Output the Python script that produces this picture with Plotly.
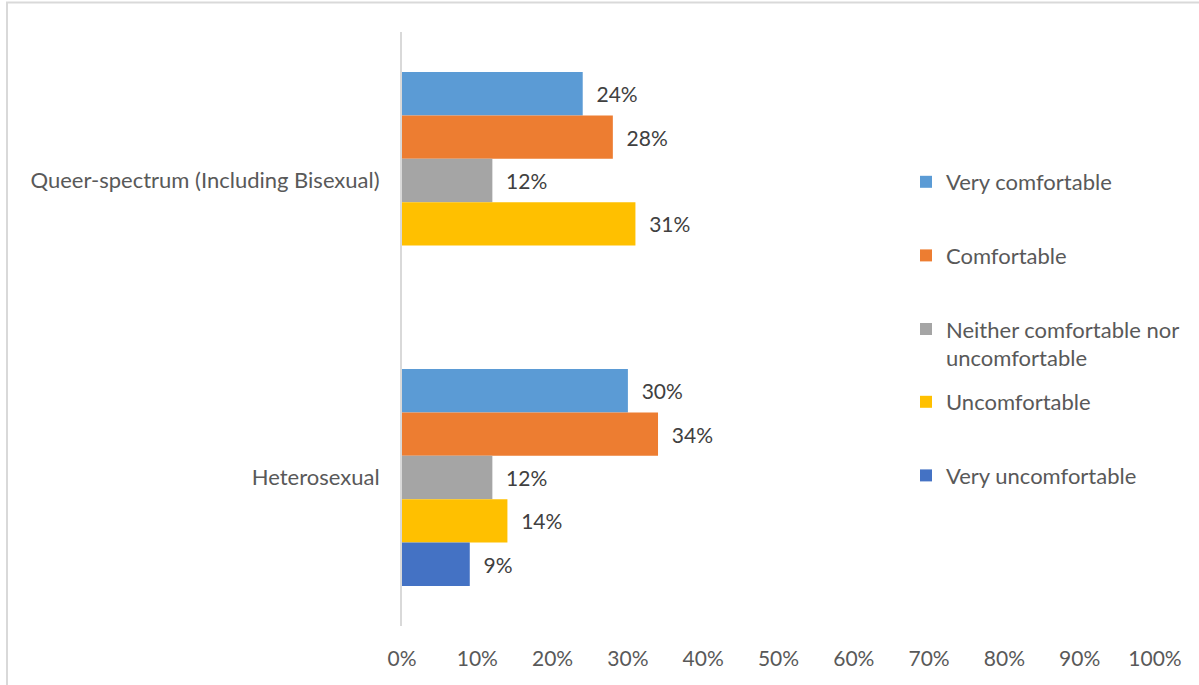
import plotly.graph_objects as go

# Survey responses by orientation group (percent of respondents)
groups = ["Queer-spectrum (Including Bisexual)", "Heterosexual"]
very_comfortable = [24, 30]
comfortable = [28, 34]
neither = [12, 12]
uncomfortable = [31, 14]
very_uncomfortable = [None, 9]

series = [
    ("Very comfortable", very_comfortable, "#5B9BD5", "legend"),
    ("Comfortable", comfortable, "#ED7D31", "legend"),
    ("Neither comfortable nor<br>uncomfortable", neither, "#A5A5A5", "legend"),
    ("Uncomfortable", uncomfortable, "#FFC000", "legend2"),
    ("Very uncomfortable", very_uncomfortable, "#4472C4", "legend2"),
]

x_ticks = list(range(0, 101, 10))

FONT = "Lato"
W, H = 1199, 685
L, R, T, B = 402, 44, 32, 59

fig = go.Figure()
for i, (name, vals, color, leg) in enumerate(series):
    fig.add_trace(go.Bar(
        name=name,
        y=groups,
        x=vals,
        orientation="h",
        marker=dict(color=color, line=dict(width=0)),
        text=[None if v is None else f"{v}%" for v in vals],
        texttemplate="\u00a0\u00a0%{text}",
        textposition="outside",
        textfont=dict(family=FONT, size=21, color="#404040"),
        cliponaxis=False,
        legendgroup=f"g{i}",
        legend=leg,
    ))

pw = W - L - R
ph = H - T - B
# chart frame (light grey border running off the right and bottom edges)
fx = (7 - L) / pw
fy = (H - B - 2.5) / ph
fig.add_shape(
    type="path",
    xref="paper", yref="paper",
    path=f"M {fx},-0.3 L {fx},{fy} L 1.2,{fy}",
    line=dict(color="#D9D9D9", width=2),
    layer="below",
)

legend_style = dict(
    x=(906 - L) / pw, xanchor="left",
    yanchor="top",
    bgcolor="rgba(0,0,0,0)",
    font=dict(family=FONT, size=22, color="#595959"),
    traceorder="grouped",
    tracegroupgap=42,
    valign="top",
    itemclick=False,
)

fig.update_layout(
    width=W, height=H,
    margin=dict(l=L, r=R, t=T, b=B),
    paper_bgcolor="white",
    plot_bgcolor="white",
    barmode="group",
    bargap=0.27,
    bargroupgap=0,
    font=dict(family=FONT, size=21, color="#595959"),
    legend=dict(legend_style, y=(H - B - 161) / ph),
    legend2=dict(legend_style, y=(H - B - 381) / ph),
    xaxis=dict(
        range=[0, 100],
        tickvals=x_ticks,
        ticktext=[f"{v}%" for v in x_ticks],
        showgrid=False,
        zeroline=False,
        showline=False,
        ticks="",
        ticklabelstandoff=18,
        tickfont=dict(family=FONT, size=21, color="#595959"),
    ),
    yaxis=dict(
        autorange="reversed",
        showgrid=False,
        zeroline=False,
        showline=True,
        linecolor="#D9D9D9",
        linewidth=2,
        ticks="",
        ticklabelstandoff=16,
        tickfont=dict(family=FONT, size=22, color="#595959"),
    ),
)

fig.write_html("out.html")
